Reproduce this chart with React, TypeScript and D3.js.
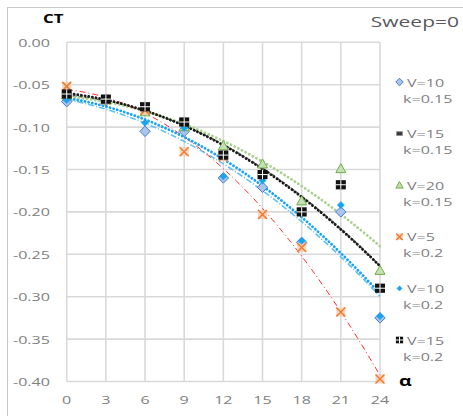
import React from "react";
import * as d3 from "d3";

const alphas = [0, 3, 6, 9, 12, 15, 18, 21, 24];
const xTicks = [0, 3, 6, 9, 12, 15, 18, 21, 24];
const yTicks = [0, -0.05, -0.1, -0.15, -0.2, -0.25, -0.3, -0.35, -0.4];

const v10k15 = [-0.07, -0.069, -0.105, -0.105, -0.16, -0.171, -0.236, -0.2, -0.325];
const v15k15 = [-0.064, -0.067, -0.077, -0.094, -0.132, -0.155, -0.199, -0.168, -0.289];
const v20k15 = [-0.062, -0.068, -0.082, -0.0995, -0.122, -0.1435, -0.187, -0.149, -0.269];
const v5k2 = [-0.052, -0.068, -0.08, -0.129, -0.135, -0.203, -0.242, -0.318, -0.397];
const v10k2 = [-0.068, -0.069, -0.095, -0.101, -0.158, -0.163, -0.234, -0.192, -0.323];
const v15k2 = [-0.061, -0.067, -0.076, -0.094, -0.133, -0.156, -0.2, -0.168, -0.29];

const seriesNames = [
  ["V=10", "k=0.15"],
  ["V=15", "k=0.15"],
  ["V=20", "k=0.15"],
  ["V=5", "k=0.2"],
  ["V=10", "k=0.2"],
  ["V=15", "k=0.2"],
];

type Sty = { marker: string; line: string; dash: string; width: number; cap: string };
const styles: Sty[] = [
  { marker: "diamond", line: "#5ec2f4", dash: "6 2 1 2", width: 1.6, cap: "butt" },
  { marker: "rect", line: "#595959", dash: "4 2", width: 1.6, cap: "butt" },
  { marker: "triangle", line: "#a9d18e", dash: "0.1 4", width: 2.8, cap: "round" },
  { marker: "xbox", line: "#ff2a2a", dash: "6 3 1 3", width: 1, cap: "butt" },
  { marker: "sdiamond", line: "#1aa3f0", dash: "0.1 3.6", width: 2.8, cap: "round" },
  { marker: "cross", line: "#1a1a1a", dash: "0.1 3.6", width: 2.8, cap: "round" },
];

const allSeries = [v10k15, v15k15, v20k15, v5k2, v10k2, v15k2];

function polyfit2(xs: number[], ys: number[]) {
  const n = xs.length;
  let s0 = n, s1 = 0, s2 = 0, s3 = 0, s4 = 0, t0 = 0, t1 = 0, t2 = 0;
  for (let i = 0; i < n; i++) {
    const x = xs[i], y = ys[i];
    s1 += x; s2 += x * x; s3 += x * x * x; s4 += x * x * x * x;
    t0 += y; t1 += x * y; t2 += x * x * y;
  }
  const A = [
    [s0, s1, s2, t0],
    [s1, s2, s3, t1],
    [s2, s3, s4, t2],
  ];
  for (let c = 0; c < 3; c++) {
    for (let r = c + 1; r < 3; r++) {
      const f = A[r][c] / A[c][c];
      for (let k = c; k < 4; k++) A[r][k] -= f * A[c][k];
    }
  }
  const b = [0, 0, 0];
  for (let r = 2; r >= 0; r--) {
    let s = A[r][3];
    for (let k = r + 1; k < 3; k++) s -= A[r][k] * b[k];
    b[r] = s / A[r][r];
  }
  return (x: number) => b[0] + b[1] * x + b[2] * x * x;
}

const FONT = "'Open Sans', 'DejaVu Sans', sans-serif";
const SX = 1.4;

function Marker({ type, x, y, k = 1 }: { type: string; x: number; y: number; k?: number }) {
  if (type === "diamond") {
    const r = 5.2 * k;
    return <path d={`M${x},${y - r}L${x + r},${y}L${x},${y + r}L${x - r},${y}Z`} fill="#a9c5eb" stroke="#4a78c8" strokeWidth={1} />;
  }
  if (type === "sdiamond") {
    const r = 3.6 * k;
    return <path d={`M${x},${y - r}L${x + r},${y}L${x},${y + r}L${x - r},${y}Z`} fill="#1aa3f0" stroke="#1aa3f0" strokeWidth={0.5} />;
  }
  if (type === "rect") {
    return <rect x={x - 4 * k} y={y - 2.6 * k} width={8 * k} height={5.2 * k} fill="#3a3a3a" stroke="#8c8c8c" strokeWidth={0.8} />;
  }
  if (type === "triangle") {
    const r = 5 * k;
    return <path d={`M${x},${y - r}L${x + r},${y + r * 0.8}L${x - r},${y + r * 0.8}Z`} fill="#c5e0b4" stroke="#70ad47" strokeWidth={1} />;
  }
  if (type === "xbox") {
    const r = 4.5 * k;
    return (
      <g>
        <rect x={x - r} y={y - r} width={2 * r} height={2 * r} fill="#f8cbad" opacity={0.8} />
        <path d={`M${x - r},${y - r}L${x + r},${y + r}M${x + r},${y - r}L${x - r},${y + r}`} stroke="#ed7d31" strokeWidth={1.5} />
      </g>
    );
  }
  const w = 5 * k, h = 4.6 * k;
  return (
    <g>
      <rect x={x - w} y={y - h} width={2 * w} height={2 * h} fill="#111" />
      <path d={`M${x - w},${y}L${x + w},${y}M${x},${y - h}L${x},${y + h}`} stroke="#fff" strokeWidth={1} />
    </g>
  );
}

function SText({ x, y, anchor = "start", size, weight = "normal", fill, children }: any) {
  return (
    <text
      transform={`translate(${x},${y}) scale(${SX},1)`}
      textAnchor={anchor}
      fontSize={size}
      fontWeight={weight}
      fill={fill}
      fontFamily={FONT}
    >
      {children}
    </text>
  );
}

export default function App() {
  const W = 463, H = 416;
  const x = d3.scaleLinear().domain([0, 24]).range([66.7, 380]);
  const y = d3.scaleLinear().domain([0, -0.4]).range([42.3, 381.5]);
  const fmt = d3.format(".2f");
  const xsFine = d3.range(0, 24.001, 0.25);

  return (
    <svg width={W} height={H} style={{ position: "absolute", left: 0, top: 0, background: "#fff" }}>
      <rect x={7.5} y={7.5} width={480} height={430} fill="#fff" stroke="#c8c8c8" strokeWidth={1} />
      {yTicks.map((t) => (
        <line key={"gy" + t} x1={x(0)} x2={x(24)} y1={y(t)} y2={y(t)} stroke="#d9d9d9" strokeWidth={1.6} />
      ))}
      {xTicks.map((t) => (
        <line key={"gx" + t} x1={x(t)} x2={x(t)} y1={y(0)} y2={y(-0.4)} stroke="#d9d9d9" strokeWidth={1.6} />
      ))}
      {yTicks.map((t) => (
        <SText key={"ty" + t} x={50} y={y(t) + 4.5} anchor="end" size={11.5} fill="#808080">
          {fmt(t).replace("−", "-")}
        </SText>
      ))}
      {xTicks.map((t) => (
        <SText key={"tx" + t} x={x(t)} y={404} anchor="middle" size={11.5} fill="#808080">
          {String(t)}
        </SText>
      ))}
      {allSeries.map((s, i) => {
        const f = polyfit2(alphas, s);
        const gen = d3.line<number>().x((d) => x(d)).y((d) => y(f(d)));
        const st = styles[i];
        return (
          <path
            key={"tl" + i}
            d={gen(xsFine) || ""}
            fill="none"
            stroke={st.line}
            strokeWidth={st.width}
            strokeDasharray={st.dash}
            strokeLinecap={st.cap as any}
          />
        );
      })}
      {allSeries.map((s, i) => (
        <g key={"mk" + i}>
          {s.map((v, j) => (
            <Marker key={j} type={styles[i].marker} x={x(alphas[j])} y={y(v)} />
          ))}
        </g>
      ))}
      <SText x={43} y={22.7} size={12} weight="bold" fill="#000">CT</SText>
      <SText x={459} y={26.5} anchor="end" size={15} fill="#595959">Sweep=0</SText>
      <SText x={399} y={386} size={14} weight="bold" fill="#000">α</SText>
      {seriesNames.map((nm, i) => {
        const cy = 82 + i * 51.6;
        return (
          <g key={"lg" + i}>
            <Marker type={styles[i].marker} x={399.5} y={cy} k={0.72} />
            <SText x={407} y={cy + 4.5} size={11.5} fill="#808080">{nm[0]}</SText>
            <SText x={403} y={cy + 20.5} size={11.5} fill="#808080">{nm[1]}</SText>
          </g>
        );
      })}
    </svg>
  );
}
